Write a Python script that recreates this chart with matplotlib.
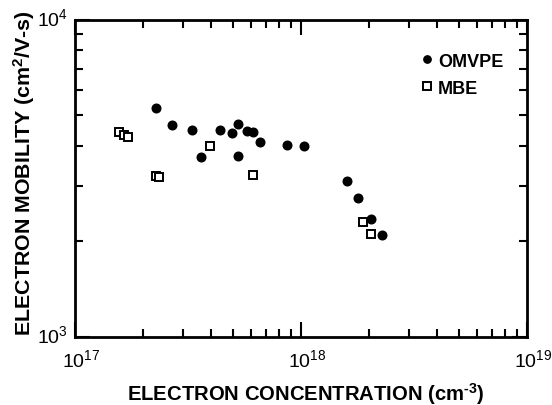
import matplotlib
matplotlib.use("Agg")
import matplotlib.pyplot as plt
import matplotlib.transforms as mtransforms
from matplotlib.ticker import LogLocator, NullFormatter

plt.rcParams['font.family'] = ['Liberation Sans', 'DejaVu Sans']
plt.rcParams['mathtext.fontset'] = 'custom'
plt.rcParams['mathtext.rm'] = 'Liberation Sans'
plt.rcParams['mathtext.bf'] = 'Liberation Sans:bold'
plt.rcParams['mathtext.default'] = 'regular'

# electron concentration (cm^-3) and mobility (cm^2/V-s)
omvpe_n = [2.29e17, 2.70e17, 3.29e17, 3.60e17, 4.40e17, 4.97e17, 5.28e17, 5.28e17,
           5.75e17, 6.15e17, 6.59e17, 8.64e17, 1.03e18, 1.59e18, 1.79e18, 2.04e18, 2.29e18]
omvpe_mu = [5250, 4665, 4497, 3689, 4477, 4390, 4677, 3724,
            4445, 4422, 4122, 4034, 4005, 3107, 2734, 2353, 2096]

mbe_n = [1.56e17, 1.64e17, 1.71e17, 2.28e17, 2.35e17, 3.96e17, 6.15e17, 1.89e18, 2.05e18]
mbe_mu = [4433, 4337, 4256, 3215, 3184, 3987, 3245, 2298, 2106]

x_ticks = [1e17, 1e18, 1e19]
x_tick_labels = ['10$^{17}$', '10$^{18}$', '10$^{19}$']
y_ticks = [1e3, 1e4]
y_tick_labels = ['10$^{3}$', '10$^{4}$']

fig = plt.figure(figsize=(5.52, 4.06), dpi=100)
ax = fig.add_axes([75 / 552, 1 - 338 / 406, 452 / 552, 317.5 / 406])

ax.plot(omvpe_n, omvpe_mu, 'o', color='black', markersize=6.2, label='OMVPE')
ax.plot(mbe_n, mbe_mu, 's', markerfacecolor='white', markeredgecolor='black',
        markeredgewidth=1.4, markersize=6.2, label='MBE')

ax.set_xscale('log')
ax.set_yscale('log')
ax.set_xlim(1e17, 1e19)
ax.set_ylim(1e3, 1e4)

for side in ax.spines.values():
    side.set_linewidth(2)

ax.set_xticks(x_ticks, x_tick_labels)
ax.set_yticks(y_ticks, y_tick_labels)
ax.xaxis.set_minor_locator(LogLocator(base=10, subs=range(2, 10), numticks=20))
ax.yaxis.set_minor_locator(LogLocator(base=10, subs=range(2, 10), numticks=20))
ax.xaxis.set_minor_formatter(NullFormatter())
ax.yaxis.set_minor_formatter(NullFormatter())
ax.tick_params(which='both', direction='in', top=True, right=True, width=1.5,
               labelsize=14)
ax.tick_params(which='major', length=11)
ax.tick_params(which='minor', length=5.5)
ax.tick_params(axis='x', which='major', pad=8)
ax.tick_params(axis='y', which='major', pad=5)

# nudge tick labels the way the old plotter set them
dx = mtransforms.ScaledTranslation(0.06, 0, fig.dpi_scale_trans)
dy = mtransforms.ScaledTranslation(0, 0.035, fig.dpi_scale_trans)
for lbl in ax.get_xticklabels():
    lbl.set_transform(lbl.get_transform() + dx)
for lbl in ax.get_yticklabels():
    lbl.set_transform(lbl.get_transform() + dy)

ax.set_xlabel('ELECTRON CONCENTRATION (cm$^{\u20103}$)', fontsize=14.6,
              fontweight='bold')
ax.xaxis.set_label_coords(0.511, -0.137)
ax.set_ylabel('ELECTRON MOBILITY (cm$^{2}$/V-s)', fontsize=15.4,
              fontweight='bold')
ax.yaxis.set_label_coords(-0.083, 0.518)

ax.legend(loc='upper right', frameon=False, handletextpad=0.1,
          handlelength=1.0, borderaxespad=1.4, labelspacing=0.55, markerscale=0.85,
          bbox_to_anchor=(1.02, 0.998),
          prop={'weight': 'bold', 'size': 13})

fig.savefig('out.png', dpi=100)
